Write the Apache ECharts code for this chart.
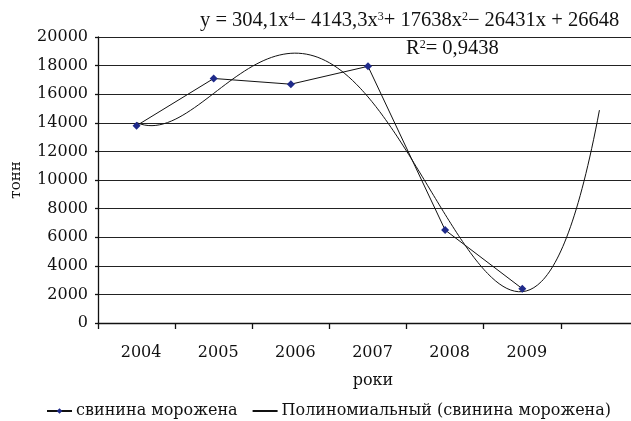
<!DOCTYPE html>
<html>
<head>
<meta charset="utf-8">
<script src="https://cdn.jsdelivr.net/npm/echarts@6/dist/echarts.min.js"></script>
<style>
  html, body { margin: 0; padding: 0; background: #fff; }
  #chart { width: 631px; height: 421px; }
</style>
</head>
<body>
<div id="chart"></div>
<script>
// Frozen pork volumes by year, tonnes
const years = ['2004', '2005', '2006', '2007', '2008', '2009'];
const porkValues = [13800, 17100, 16700, 17950, 6500, 2400];
const yTicks = [0, 2000, 4000, 6000, 8000, 10000, 12000, 14000, 16000, 18000, 20000];

// 4th-order polynomial trend, coefficients from x^4 down to constant (x = 1 for 2004)
const trendCoef = [304.1, -4143.3, 17638, -26431, 26648];
const trendR2 = '0,9438';
const trendForward = 1; // periods projected past the last year

const seriesName = 'свинина морожена';
const trendName = 'Полиномиальный (свинина морожена)';

const FONT = 'DejaVu Serif';
const EQ_FONT = 'Liberation Serif';

// x positions: each year sits in the middle of its slot
const porkData = porkValues.map((v, i) => [i + 0.5, v]);

const trendData = [];
const tEnd = years.length + trendForward;
const steps = 240;
for (let k = 0; k <= steps; k++) {
  const t = 1 + (tEnd - 1) * k / steps;
  let y = 0;
  for (const c of trendCoef) y = y * t + c;
  trendData.push([t - 0.5, y]);
}
const xMax = years.length + 1; // one extra slot on the right, partly cut off

const chart = echarts.init(document.getElementById('chart'), null, { renderer: 'canvas' });

const sup = { fontSize: 12, fontFamily: EQ_FONT, color: '#111', padding: [0, 0, 9, 0] };

function eqText(x, y, text) {
  return {
    type: 'text', x: x, y: y,
    style: {
      x: 0, y: 0, text: text, verticalAlign: 'middle', align: 'left',
      fontSize: 20.5, fontFamily: EQ_FONT, fill: '#111',
      rich: { s: sup }
    }
  };
}

chart.setOption({
  animation: false,
  backgroundColor: '#fff',
  grid: { left: 98, right: -7, top: 37, bottom: 98, containLabel: false, outerBoundsMode: 'none' },
  xAxis: [
    {
      type: 'value', min: 0, max: xMax, interval: 1,
      axisLine: { show: true, lineStyle: { color: '#111', width: 1.3 } },
      axisTick: { show: true, inside: false, length: 6, lineStyle: { color: '#111', width: 1.3 } },
      axisLabel: { show: false },
      splitLine: { show: false }
    },
    {
      type: 'value', min: 0, max: xMax, interval: 0.5, position: 'bottom',
      name: 'роки', nameLocation: 'middle', nameGap: 50,
      nameTextStyle: { fontSize: 16, fontFamily: FONT, color: '#111', padding: [0, 0, 0, 10] },
      axisLine: { show: false },
      axisTick: { show: false },
      splitLine: { show: false },
      axisLabel: {
        show: true, margin: 22, fontSize: 16, fontFamily: FONT, color: '#111',
        padding: [0, 0, 0, 9],
        formatter: v => {
          const i = Math.round(v - 0.5);
          return (Math.abs(v - 0.5 - i) < 1e-6 && years[i]) ? years[i] : '';
        }
      }
    }
  ],
  yAxis: {
    type: 'value', min: yTicks[0], max: yTicks[yTicks.length - 1],
    interval: yTicks[1] - yTicks[0],
    name: 'тонн', nameLocation: 'middle', nameGap: 74, nameRotate: 90,
    nameTextStyle: { fontSize: 15, fontFamily: FONT, color: '#111' },
    axisLine: { show: true, lineStyle: { color: '#111', width: 1.3 } },
    axisTick: { show: true, length: 3, lineStyle: { color: '#111', width: 1.3 } },
    axisLabel: { fontSize: 16, fontFamily: FONT, color: '#111', margin: 10, formatter: v => String(v) },
    splitLine: { show: true, lineStyle: { color: '#222', width: 1.2 } }
  },
  legend: {
    top: 398, left: 41, itemWidth: 25, itemHeight: 7, itemGap: 14,
    textStyle: { fontSize: 16, fontFamily: FONT, color: '#111', padding: [0, 0, 0, -1] },
    data: [
      { name: seriesName },
      { name: trendName, itemStyle: { opacity: 0 } }
    ]
  },
  graphic: [
    eqText(200, 21, 'y = 304,1x{s|4}− 4143,3x{s|3}+ 17638x{s|2}− 26431x + 26648'),
    eqText(406, 49, 'R{s|2}= ' + trendR2)
  ],
  series: [
    {
      name: seriesName, type: 'line', data: porkData, xAxisIndex: 0,
      symbol: 'diamond', symbolSize: 8, showSymbol: true,
      lineStyle: { color: '#111', width: 1 },
      itemStyle: { color: '#1f2a8a' },
      z: 3
    },
    {
      name: trendName, type: 'line', data: trendData, xAxisIndex: 0,
      symbol: 'none', smooth: false,
      lineStyle: { color: '#111', width: 1 },
      itemStyle: { color: '#111' },
      z: 2
    }
  ]
});
</script>
</body>
</html>
